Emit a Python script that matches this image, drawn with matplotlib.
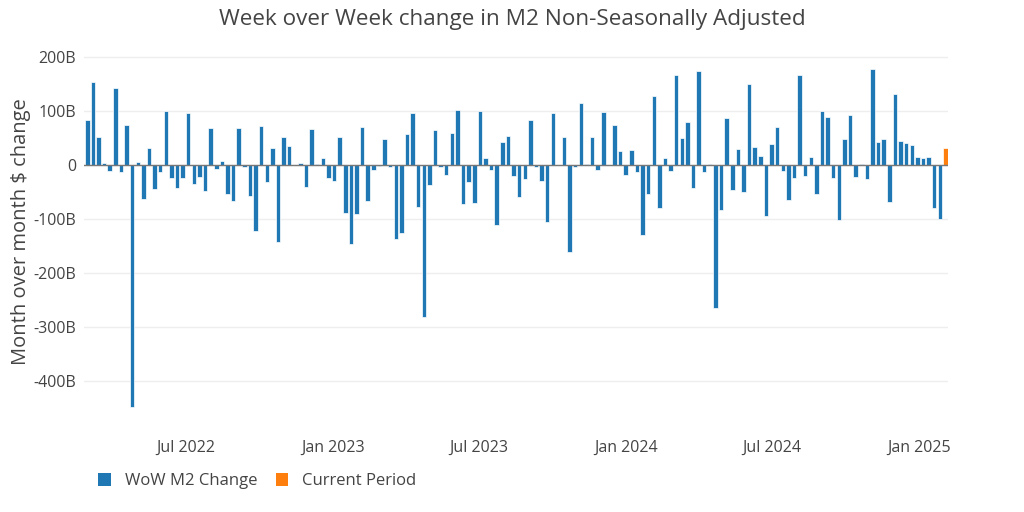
import pandas as pd
import matplotlib
matplotlib.use('Agg')
import matplotlib.pyplot as plt
import matplotlib.dates as mdates
from matplotlib.patches import Patch
from matplotlib.ticker import FuncFormatter

# weekly change in M2 (billions), weeks ending Monday, starting 2022-02-28
first_week = '2022-02-28'
wow_change = [
    84, 154, 51, 4, -12, 143, -14, 73, -449, 5, -63, 31, -44, -14, 99, -25, -42, -25, 96,
    -35, -23, -48, 69, -7, 7, -54, -67, 68, -4, -57, -123, 72, -31, 32, -142, 51, 35,
    0, 4, -40, 67, 1, 12, -25, -30, 51, -89, -146, -91, 70, -66, -9, -2, 48, -4, -137, -126,
    57, 96, -78, -282, -38, 64, -4, -19, 59, 102, -73, -31, -71, 99, 12, -9, -112, 42,
    54, -20, -60, -27, 84, -4, -30, -105, 96, 0, 51, -161, -3, 115, 2, 51, -9, 98,
    0, 73, 26, -18, 28, -14, -129, -53, 128, -79, 12, -11, 166, 49, 79, -43, 173, -14, 2,
    -265, -83, 86, -46, 29, -51, 150, 34, 17, -94, 39, 70, -12, -65, -24, 167, -21, 14,
    -54, 100, 89, -25, -102, 48, 93, -23, 2, -27, 177, 42, 48, -69, 131, 45, 41, 37, 15, 13, 15, -80, -100,
]
current_period = [31]

tick_dates = ['2022-07-01', '2023-01-01', '2023-07-01', '2024-01-01', '2024-07-01', '2025-01-01']
y_ticks = [-400, -300, -200, -100, 0, 100, 200]

blue = '#1f77b4'
orange = '#ff7f0e'
text_col = '#444444'

plt.rcParams['font.family'] = ['Open Sans', 'DejaVu Sans']

dates = pd.date_range(first_week, periods=len(wow_change) + len(current_period), freq='7D')
wow_dates = dates[:len(wow_change)]
cur_dates = dates[len(wow_change):]

fig = plt.figure(figsize=(10.24, 5.12), dpi=100)
ax = fig.add_axes([0.0825, 0.1926, 0.8435, 0.709])

width = pd.Timedelta(days=5.6)
ax.bar(wow_dates, wow_change, width=width, color=blue, edgecolor='white', linewidth=0.5, zorder=3)
ax.bar(cur_dates, current_period, width=width, color=orange, edgecolor='white', linewidth=0.5, zorder=3)

ax.set_xlim(dates[0] - pd.Timedelta(days=3.5), dates[-1] + pd.Timedelta(days=3.5))
ax.set_ylim(-460, 212)

ax.set_yticks(y_ticks)
ax.yaxis.set_major_formatter(FuncFormatter(lambda v, p: '0' if v == 0 else f'{int(v)}B'))
ax.set_xticks(pd.to_datetime(tick_dates))
ax.xaxis.set_major_formatter(mdates.DateFormatter('%b %Y'))

ax.grid(axis='y', color='#eeeeee', linewidth=1, zorder=0)
ax.axhline(0, color='#777777', linewidth=1, zorder=4)
for s in ax.spines.values():
    s.set_visible(False)
ax.tick_params(length=0, labelsize=11.5, colors=text_col, pad=6)
ax.tick_params(axis='x', pad=19)

ax.set_ylabel('Month over month $ change', fontsize=14.5, color=text_col, labelpad=2)
fig.suptitle('Week over Week change in M2 Non-Seasonally Adjusted', fontsize=16.2, color=text_col,
             x=0.5, y=0.982)

handles = [Patch(facecolor=blue, label='WoW M2 Change'),
           Patch(facecolor=orange, label='Current Period')]
fig.legend(handles=handles, loc='center left', bbox_to_anchor=(0.096, 0.06), ncol=2,
           frameon=False, fontsize=12, handlelength=0.75, handleheight=0.75,
           columnspacing=1.1, handletextpad=0.85, borderpad=0, borderaxespad=0,
           labelcolor=text_col)

fig.savefig('out.png', dpi=100, facecolor='white')
